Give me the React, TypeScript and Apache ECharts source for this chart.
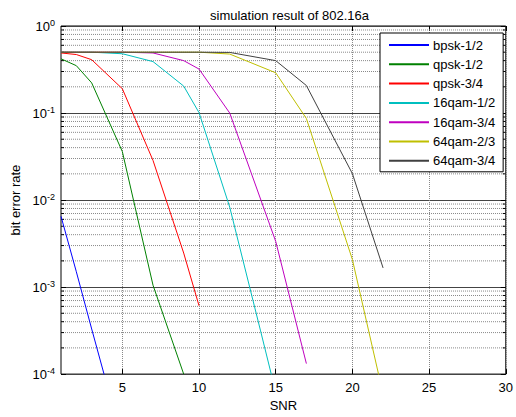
import React, { useEffect, useRef } from "react";
import * as echarts from "echarts";

const TITLE = "simulation result of 802.16a";
const SERIES_NAMES = ["bpsk-1/2", "qpsk-1/2", "qpsk-3/4", "16qam-1/2", "16qam-3/4", "64qam-2/3", "64qam-3/4"];
const COLORS = ["#0000ff", "#008000", "#ff0000", "#00bfbf", "#bf00bf", "#bfbf00", "#404040"];

const bpskSnr = [1, 2, 3, 4];
const bpskBer = [6.5e-3, 1.5e-3, 3.3e-4, 7.5e-5];
const qpsk12Snr = [1, 2, 3, 5, 7, 9];
const qpsk12Ber = [0.42, 0.35, 0.222, 0.036, 1.05e-3, 1.0e-4];
const qpsk34Snr = [1, 2, 3, 5, 7, 9, 10];
const qpsk34Ber = [0.49, 0.47, 0.41, 0.19, 0.0285, 2.46e-3, 6.1e-4];
const qam16_12Snr = [1, 3, 5, 7, 9, 10, 12, 14, 15];
const qam16_12Ber = [0.5, 0.5, 0.48, 0.39, 0.204, 0.101, 8.3e-3, 3.2e-4, 6.2e-5];
const qam16_34Snr = [1, 3, 5, 7, 9, 10, 12, 15, 17];
const qam16_34Ber = [0.5, 0.5, 0.5, 0.49, 0.4, 0.32, 0.1, 3.35e-3, 1.32e-4];
const qam64_23Snr = [1, 5, 10, 12, 15, 17, 20, 22];
const qam64_23Ber = [0.5, 0.5, 0.5, 0.476, 0.29, 0.0865, 2.07e-3, 5.9e-5];
const qam64_34Snr = [1, 5, 10, 12, 15, 17, 20, 22];
const qam64_34Ber = [0.5, 0.5, 0.5, 0.497, 0.4, 0.207, 0.0201, 1.66e-3];

const SNR_LIST = [bpskSnr, qpsk12Snr, qpsk34Snr, qam16_12Snr, qam16_34Snr, qam64_23Snr, qam64_34Snr];
const BER_LIST = [bpskBer, qpsk12Ber, qpsk34Ber, qam16_12Ber, qam16_34Ber, qam64_23Ber, qam64_34Ber];

const X_MIN = 1;
const X_MAX = 30;
const X_TICKS = [5, 10, 15, 20, 25, 30];
const Y_MIN = 1e-4;
const Y_MAX = 1;
const Y_MINOR = [
  2e-4, 3e-4, 4e-4, 5e-4, 6e-4, 7e-4, 8e-4, 9e-4,
  2e-3, 3e-3, 4e-3, 5e-3, 6e-3, 7e-3, 8e-3, 9e-3,
  2e-2, 3e-2, 4e-2, 5e-2, 6e-2, 7e-2, 8e-2, 9e-2,
  0.2, 0.3, 0.4, 0.5, 0.6, 0.7, 0.8, 0.9,
];

const FONT = "'Liberation Sans', Arial, sans-serif";

export default function App() {
  const ref = useRef<HTMLDivElement>(null);
  useEffect(() => {
    if (!ref.current) return;
    const chart = echarts.init(ref.current, null, { renderer: "svg" });
    const lineSeries = SERIES_NAMES.map((name, i) => ({
      name,
      type: "line",
      symbol: "none",
      clip: true,
      z: 3,
      data: SNR_LIST[i].map((x, j) => [x, BER_LIST[i][j]]),
      lineStyle: { color: COLORS[i], width: 1 },
      itemStyle: { color: COLORS[i] },
    }));
    const minorSeries = {
      type: "custom",
      z: 1,
      silent: true,
      data: Y_MINOR.map((v) => [X_MIN, v]),
      renderItem: (params: any, api: any) => {
        const v = api.value(1);
        const p0 = api.coord([X_MIN, v]);
        const p1 = api.coord([X_MAX, v]);
        return {
          type: "group",
          children: [
            {
              type: "line",
              shape: { x1: p0[0], y1: p0[1], x2: p1[0], y2: p1[1] },
              style: { stroke: "#8a8a8a", lineWidth: 1, lineDash: [1, 1] },
            },
            {
              type: "line",
              shape: { x1: p0[0], y1: p0[1], x2: p0[0] + 3, y2: p0[1] },
              style: { stroke: "#000", lineWidth: 1 },
            },
            {
              type: "line",
              shape: { x1: p1[0] - 3, y1: p1[1], x2: p1[0], y2: p1[1] },
              style: { stroke: "#000", lineWidth: 1 },
            },
          ],
        };
      },
    };
    const xTickCommon = {
      type: "value",
      min: X_MIN,
      max: X_MAX,
    };
    chart.setOption({
      animation: false,
      backgroundColor: "#fff",
      textStyle: { fontFamily: FONT },
      title: {
        text: TITLE,
        left: 284.5,
        textAlign: "center",
        top: 4,
        textStyle: { fontSize: 13, fontWeight: "normal", color: "#000", fontFamily: FONT },
      },
      grid: {
        left: 61,
        top: 26,
        right: 8,
        bottom: 40,
        show: true,
        borderColor: "#000",
        borderWidth: 1,
        backgroundColor: "#fff",
      },
      legend: {
        orient: "vertical",
        left: 380,
        top: 33,
        icon: "rect",
        itemWidth: 40,
        itemHeight: 2,
        itemGap: 5.3,
        padding: [5, 8, 4, 9],
        backgroundColor: "#fff",
        borderColor: "#000",
        borderWidth: 1,
        selectedMode: false,
        data: SERIES_NAMES,
        textStyle: { fontSize: 13, color: "#000", fontFamily: FONT, lineHeight: 14, padding: [0, 0, 0, -1] },
      },
      xAxis: [
        {
          ...xTickCommon,
          position: "bottom",
          name: "SNR",
          nameLocation: "middle",
          nameGap: 24,
          nameTextStyle: { fontSize: 13, color: "#000", fontFamily: FONT },
          axisLine: { show: false },
          axisTick: { show: true, inside: true, length: 5, customValues: X_TICKS, lineStyle: { color: "#000" } },
          axisLabel: { show: true, customValues: X_TICKS, fontSize: 13, color: "#000", margin: 7, fontFamily: FONT },
          splitLine: { show: true, lineStyle: { color: "#888", width: 1, type: [1, 1] } },
        },
        {
          ...xTickCommon,
          position: "top",
          axisLine: { show: false },
          axisTick: { show: true, inside: true, length: 5, customValues: X_TICKS, lineStyle: { color: "#000" } },
          axisLabel: { show: false },
          splitLine: { show: false },
        },
      ],
      yAxis: [
        {
          type: "log",
          logBase: 10,
          min: Y_MIN,
          max: Y_MAX,
          name: "bit error rate",
          nameLocation: "middle",
          nameGap: 34,
          nameTextStyle: { fontSize: 13, color: "#000", fontFamily: FONT },
          axisLine: { show: false },
          axisTick: { show: true, inside: true, length: 5, lineStyle: { color: "#000" } },
          axisLabel: {
            margin: 6,
            formatter: (v: number) => "{b|10}{s|" + Math.round(Math.log10(v)) + "}",
            rich: {
              b: { fontSize: 13, color: "#000", fontFamily: FONT, lineHeight: 15 },
              s: { fontSize: 9, color: "#000", fontFamily: FONT, lineHeight: 9, verticalAlign: "top" },
            },
          },
          splitLine: { show: true, lineStyle: { color: "#444", width: 1 } },
        },
        {
          type: "log",
          logBase: 10,
          min: Y_MIN,
          max: Y_MAX,
          position: "right",
          axisLine: { show: false },
          axisTick: { show: true, inside: true, length: 5, lineStyle: { color: "#000" } },
          axisLabel: { show: false },
          splitLine: { show: false },
        },
      ],
      series: [minorSeries, ...lineSeries],
    });
    return () => chart.dispose();
  }, []);
  return (
    <div
      ref={ref}
      style={{ position: "fixed", left: 0, top: 0, width: 516, height: 417, background: "#fff" }}
    />
  );
}
